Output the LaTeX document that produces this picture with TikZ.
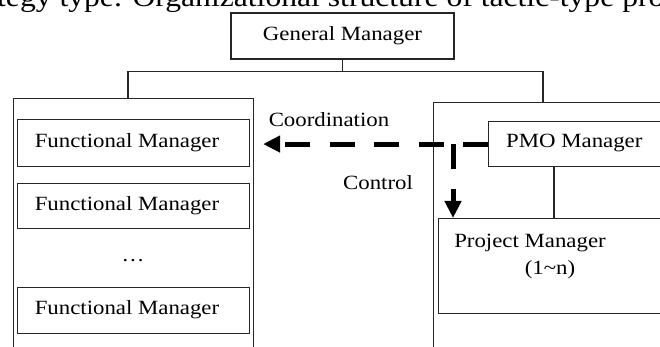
\documentclass[tikz,border=0pt]{standalone}
\usepackage{fontspec}
\setmainfont[FakeStretch=1.13]{Liberation Serif}
\usetikzlibrary{arrows.meta}
\begin{document}
\begin{tikzpicture}[x=1pt,y=-1pt,
  box/.style={draw=black!85, line width=1.1pt, rectangle, inner sep=0pt},
  lbl/.style={inner sep=0pt, font=\fontsize{20.2}{24}\selectfont},
  tree/.style={draw=black!85, line width=1.1pt},
  flow/.style={line width=5pt, dash pattern=on 25pt off 19.5pt, -{Triangle[length=17pt,width=16pt]}}]
\useasboundingbox (0,0) rectangle (660,347);
\clip (0,0) rectangle (660,347);
% caption fragment
\node[inner sep=0pt, anchor=base west, font=\fontsize{28}{30}\selectfont] (cap) at (-3,7) {tegy type. Organizational structure of tactic-type pro};
% general manager
\node[box, lbl, minimum width=223pt, minimum height=46pt] (gm) at (342.5,36) {General Manager};
% containers
\node[box, anchor=north west, minimum width=240pt, minimum height=270pt] (lc) at (13,98) {};
\node[box, anchor=north west, minimum width=250pt, minimum height=270pt] (rc) at (433,102) {};
% tree
\draw[tree] (gm.south) -- ++(0,12) coordinate (hb);
\draw[tree] ([xshift=115pt]lc.north west) |- (hb) -| ([xshift=110pt]rc.north west);
% functional managers
\node[box, anchor=north west, minimum width=232pt, minimum height=47pt] (fm1) at (17,119) {};
\node[box, anchor=north west, minimum width=232pt, minimum height=45pt] (fm2) at (17,183) {};
\node[box, anchor=north west, minimum width=232pt, minimum height=46pt] (fm3) at (17,287) {};
\node[lbl] (fm1t) at (127,143) {Functional Manager};
\node[lbl] (fm2t) at (127,206) {Functional Manager};
\node[lbl] (fm3t) at (127,310) {Functional Manager};
\node[lbl, anchor=base] (dots) at (133,261) {\ldots};
% PMO and project
\node[box, anchor=north west, minimum width=200pt, minimum height=45pt] (pmo) at (488,121) {};
\node[lbl, anchor=west] (pmot) at (506,143) {PMO Manager};
\node[box, anchor=north west, minimum width=250pt, minimum height=95pt] (proj) at (438,218) {};
\node[lbl] (projt) at (530,243) {Project Manager};
\node[lbl] (projn) at (550,270) {(1\textasciitilde n)};
\coordinate (pl) at ([xshift=66pt]pmo.south west);
\draw[tree] (pl) -- (pl |- proj.north);
% relations
\draw[flow, shorten >=13pt] (pmo.west) -- (pmo.west -| fm1.east);
\path (pmo.west) ++(-35,0) coordinate (j);
\draw[flow] (j) -- (j |- proj.north);
\node[lbl] (coord) at (329,120) {Coordination};
\node[lbl] (ctrl) at (378,183) {Control};
\end{tikzpicture}
\end{document}
